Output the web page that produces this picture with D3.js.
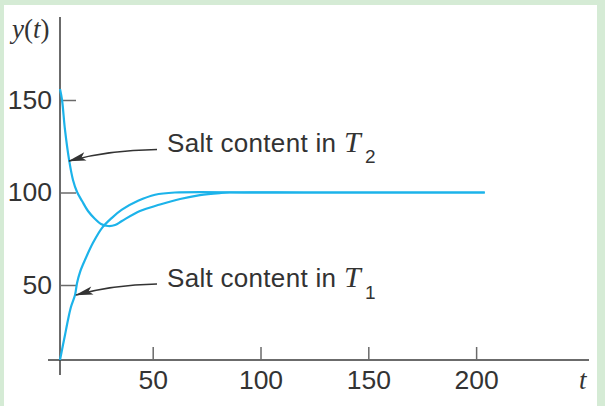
<!DOCTYPE html>
<html>
<head>
<meta charset="utf-8">
<script src="https://cdn.jsdelivr.net/npm/d3@7"></script>
<style>
  body { margin: 0; background: #d5ebd5; }
  svg { display: block; }
</style>
</head>
<body>
<div id="chart"></div>
<script>
const W = 605, H = 406

// values
const tankT1 = [
  [0, 0], [1.6, 10], [2.7, 16.7], [4.3, 26.7], [5.9, 35.3], [8.1, 43.3],
  [9.2, 51.1], [10.8, 57], [13.5, 63.6], [17.8, 72.8], [22.7, 80.9], [28, 86.3],
  [33.4, 90.7], [42.1, 95.5], [51.1, 98.8], [60.3, 100], [100, 100], [150, 100], [204, 100]
]
const tankT2 = [
  [0, 156], [1.1, 150], [2.7, 133.8], [4.9, 117.6], [7, 106.8], [9.2, 100.3],
  [11.9, 95.4], [15.1, 90], [18.9, 85.7], [22.1, 83], [25.9, 81.9], [29.7, 82.4],
  [33.4, 84.6], [43.1, 90], [53.4, 93.5], [62.7, 96.5], [71.9, 98.6], [81.2, 99.7],
  [85.8, 100], [120, 100], [160, 100], [204, 100]
]
const xTicks = [50, 100, 150, 200]
const yTicks = [50, 100, 150]

const svg = d3.select("#chart").append("svg")
  .attr("width", W)
  .attr("height", H)

svg.append("rect")
  .attr("x", 4).attr("y", 5)
  .attr("width", 593).attr("height", H - 5)
  .attr("fill", "#fff")

// the printed figure is not to scale near the origin, so piecewise scales
const x = d3.scaleLinear().domain([0, 50, 230]).range([60, 152.7, 540.8])
const y = d3.scaleLinear().domain([0, 50, 160]).range([360, 285, 81.5])

// axes lines
svg.append("line")
  .attr("x1", 48).attr("x2", 589).attr("y1", y(0)).attr("y2", y(0))
  .attr("stroke", "#3a3a3a").attr("stroke-width", 1.5)
svg.append("line")
  .attr("x1", x(0)).attr("x2", x(0)).attr("y1", 17).attr("y2", 375)
  .attr("stroke", "#3a3a3a").attr("stroke-width", 1.5)

const xAxis = svg.append("g")
  .attr("transform", "translate(0," + y(0) + ")")
  .call(d3.axisBottom(x).tickValues(xTicks).tickSizeInner(-13).tickSizeOuter(0).tickPadding(10))
const yAxis = svg.append("g")
  .attr("transform", "translate(" + x(0) + ",0)")
  .call(d3.axisLeft(y).tickValues(yTicks).tickSizeInner(-16).tickSizeOuter(0).tickPadding(8))

for (const g of [xAxis, yAxis]) {
  g.select(".domain").remove()
  g.selectAll(".tick line").attr("stroke", "#6a6a6a").attr("stroke-width", 1.5)
  g.selectAll(".tick text")
    .attr("fill", "#333")
    .style("font-family", "'Liberation Sans', Arial, sans-serif")
    .style("font-size", "26.5px")
}

// curves
const line = d3.line()
  .x(d => x(d[0]))
  .y(d => y(d[1]))
  .curve(d3.curveCatmullRom.alpha(0.5))

svg.append("path").datum(tankT1)
  .attr("d", line)
  .attr("fill", "none").attr("stroke", "#1cb3ea").attr("stroke-width", 2.2)
svg.append("path").datum(tankT2)
  .attr("d", line)
  .attr("fill", "none").attr("stroke", "#1cb3ea").attr("stroke-width", 2.2)

// axis titles
const serif = "'Liberation Serif', 'DejaVu Serif', serif"
const yTitle = svg.append("text")
  .attr("x", 12).attr("y", 38)
  .attr("fill", "#333")
  .style("font-family", serif).style("font-size", "27px")
yTitle.append("tspan").style("font-style", "italic").text("y")
yTitle.append("tspan").text("(")
yTitle.append("tspan").style("font-style", "italic").text("t")
yTitle.append("tspan").text(")")

svg.append("text")
  .attr("x", 579).attr("y", 389)
  .attr("fill", "#333")
  .style("font-family", serif).style("font-size", "27px").style("font-style", "italic")
  .text("t")

// annotations
svg.append("defs").append("marker")
  .attr("id", "arrow")
  .attr("viewBox", "0 0 20 10")
  .attr("refX", 19).attr("refY", 5)
  .attr("markerWidth", 20).attr("markerHeight", 10)
  .attr("markerUnits", "userSpaceOnUse")
  .attr("orient", "auto")
  .append("path")
  .attr("d", "M20,5 L2,0.8 L6,5 L2,9.2 Z")
  .attr("fill", "#333")

const labels = [
  {name: "2", ty: 152, sub: 163, path: "M157,149.5 Q108,150 69,161"},
  {name: "1", ty: 287, sub: 299, path: "M157,284 Q112,285 76,295"}
]

for (const l of labels) {
  svg.append("path")
    .attr("d", l.path)
    .attr("fill", "none")
    .attr("stroke", "#333").attr("stroke-width", 1.4)
    .attr("marker-end", "url(#arrow)")
  const t = svg.append("text")
    .attr("x", 167).attr("y", l.ty)
    .attr("fill", "#333")
    .style("font-family", "'Liberation Sans', Arial, sans-serif")
    .style("font-size", "26px")
  t.append("tspan").style("letter-spacing", "0.3px").text("Salt content in")
  t.append("tspan").attr("x", 344)
    .style("font-family", serif).style("font-style", "italic").style("font-size", "30px")
    .text("T")
  t.append("tspan").attr("x", 365).attr("y", l.sub)
    .style("font-size", "19px")
    .text(l.name)
}
</script>
</body>
</html>
